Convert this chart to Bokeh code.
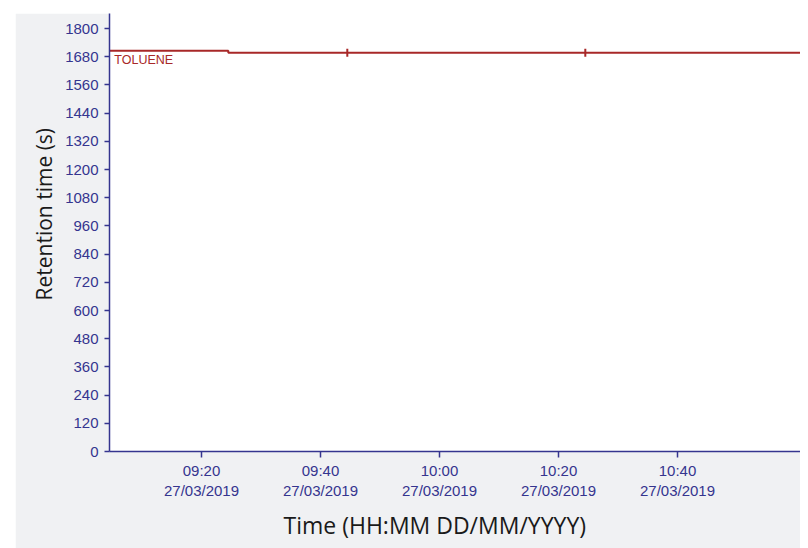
import math
import pandas as pd
from bokeh.plotting import figure
from bokeh.models import FixedTicker, Label, Range1d, DatetimeTickFormatter, Title
from bokeh.embed import file_html
from bokeh.resources import INLINE

# ---------------- data ----------------
day = "2019-03-27"
times = ["09:04:30", "09:24:30", "09:44:30", "10:04:30", "10:24:30", "10:44:30", "11:04:30"]
retention = [1705, 1697, 1697, 1697, 1697, 1697, 1697]
marker_times = ["09:44:30", "10:24:30"]
marker_values = [1697, 1697]
x_tick_labels = ["09:20", "09:40", "10:00", "10:20", "10:40"]
y_ticks = [0, 120, 240, 360, 480, 600, 720, 840, 960, 1080, 1200, 1320, 1440, 1560, 1680, 1800]
series_name = "TOLUENE"
x_title = "Time (HH:MM DD/MM/YYYY)"
y_title = "Retention time (s)"
x_start, x_end = "09:04:32", "11:00:40"
y_start, y_end = 0, 1864

def ts(t):
    return pd.Timestamp(f"{day} {t}")

x = [ts(t) for t in times]
mx = [ts(t) for t in marker_times]
xt = [ts(t).timestamp() * 1000 for t in x_tick_labels]

AXIS = "#35358f"
RED = "#a82828"
BG = "#f0f1f3"

p = figure(width=785, height=535, x_axis_type="datetime",
           x_range=Range1d(ts(x_start), ts(x_end)),
           y_range=Range1d(y_start, y_end),
           output_backend="svg", toolbar_location=None,
           background_fill_color="white", border_fill_color=BG,
           min_border_left=94, min_border_right=0, min_border_top=0, min_border_bottom=97)
p.margin = (13, 0, 0, 15)
p.outline_line_color = None
p.grid.visible = False

p.step(x, retention, mode="after", line_color=RED, line_width=2)
p.scatter(mx, marker_values, marker="dash", angle=math.pi / 2, size=8,
          line_color=RED, line_width=2)

p.add_layout(Label(x=x[0], y=retention[0], text=series_name, x_offset=5, y_offset=-2,
                   text_align="left", text_baseline="top", text_color=RED,
                   text_font="Liberation Sans", text_font_size="12.5px"))

for ax in (p.xaxis[0], p.yaxis[0]):
    ax.axis_line_color = AXIS
    ax.axis_line_width = 1.5
    ax.major_tick_line_color = AXIS
    ax.major_tick_line_width = 1.5
    ax.minor_tick_line_color = None
    ax.major_tick_in = 0
    ax.major_label_text_color = AXIS
    ax.major_label_text_font = "Liberation Sans"
    ax.major_label_text_font_size = "15px"

p.xaxis.ticker = FixedTicker(ticks=xt)
fmt = "%H:%M\n%d/%m/%Y"
p.xaxis.formatter = DatetimeTickFormatter(minsec=fmt, minutes=fmt, hourmin=fmt, hours=fmt,
                                          seconds=fmt, days=fmt, context=None)
p.xaxis.major_tick_out = 6
p.xaxis.major_label_standoff = 4
p.yaxis.ticker = FixedTicker(ticks=y_ticks)
p.yaxis.major_tick_out = 5
p.yaxis.major_label_standoff = 6

p.add_layout(Title(text=x_title, align="left", offset=174, standoff=10,
                   text_color="#1a1a1a", text_font="Open Sans", text_font_size="23px",
                   text_font_style="normal"), "below")
p.add_layout(Title(text=y_title, align="left", offset=151, standoff=10,
                   text_color="#1a1a1a", text_font="Open Sans", text_font_size="21px",
                   text_font_style="normal"), "left")

open("out.html", "w").write(file_html(p, INLINE))
